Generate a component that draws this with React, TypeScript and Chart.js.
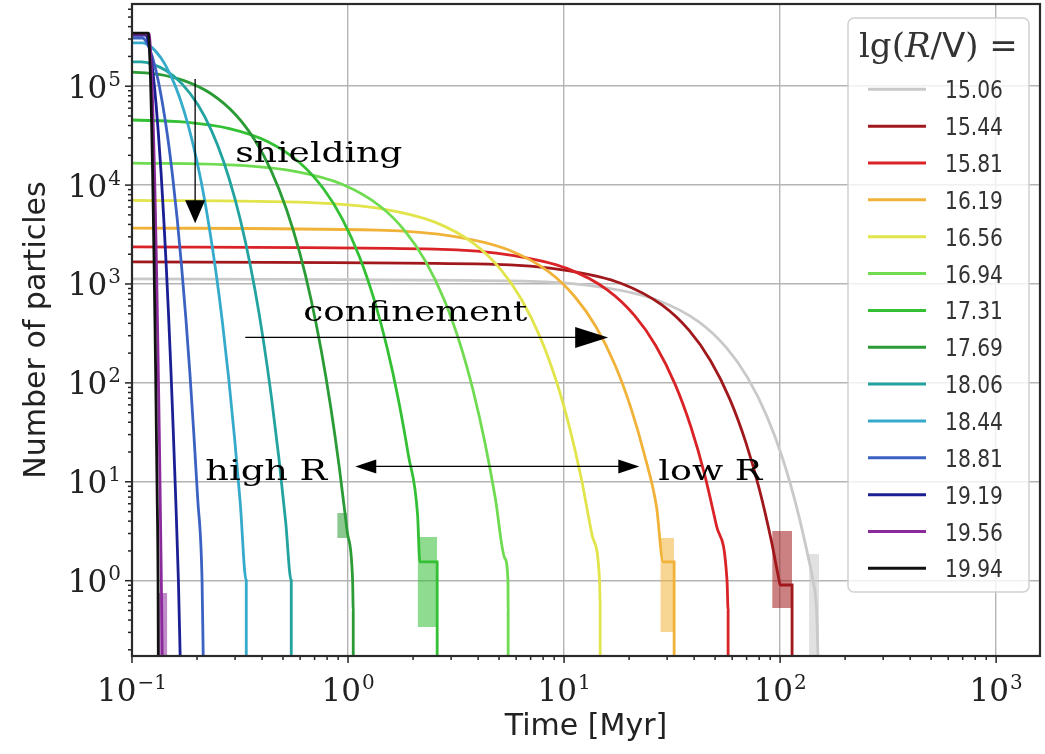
import React, { useEffect, useRef } from 'react';
import { Chart, registerables } from 'chart.js';
Chart.register(...registerables);

// ---------- axes ----------
const X_MIN = 0.1;
const X_MAX = 1596;
const Y_MIN = 0.1732;
const Y_MAX = 677800;
const xMajor = [0.1, 1, 10, 100, 1000];
const xExp = ['\u22121', '0', '1', '2', '3'];
const yMajor = [1, 10, 100, 1000, 10000, 100000];
const yExp = ['0', '1', '2', '3', '4', '5'];

// ---------- series (legend order) ----------
const labels = ['15.06', '15.44', '15.81', '16.19', '16.56', '16.94', '17.31', '17.69', '18.06', '18.44', '18.81', '19.19', '19.56', '19.94'];
const colors = ['#c9c9c9', '#a0181c', '#d92327', '#f0b238', '#e1e44a', '#6edb50', '#33c034', '#2b9b35', '#23a3a0', '#36aacb', '#3b62c2', '#1a2094', '#8b2b9b', '#111111'];

const t1506 = [0.1, 6.55, 15.45, 27.3, 42.06, 56.4, 70.7, 86.9, 103.0, 119.1, 135.3, 142.0, 147.5, 150.0];
const n1506 = [1125, 1070, 921, 682, 414, 227, 113, 45.9, 16.9, 5.61, 1.69, 1.0, 0.5, 0.15];
const t1544 = [0.1, 4.45, 10.43, 18.42, 28.36, 38.01, 47.66, 58.57, 69.39, 80.25, 91.15, 99.0, 100.0, 113.6, 113.6];
const n1544 = [1670, 1588, 1367, 1013, 614, 337, 167.5, 68.1, 25.0, 8.33, 2.51, 1.0, 0.905, 0.905, 0.15];
const t1581 = [0.1, 2.52, 5.86, 10.31, 15.84, 21.22, 26.59, 32.67, 38.69, 44.74, 50.81, 56.8, 57.46, 57.46];
const n1581 = [2370, 2254, 1940, 1437, 872, 478.5, 237.7, 96.6, 35.6, 11.83, 3.56, 1.0, 0.5, 0.15];
const t1619 = [0.1, 1.375, 3.131, 5.475, 8.389, 11.22, 14.05, 17.25, 20.42, 23.61, 26.81, 28.75, 32.32, 32.32];
const n1619 = [3680, 3500, 3013, 2232, 1354, 743, 369, 150, 55.2, 18.4, 5.53, 1.55, 1.55, 0.15];
const t1656 = [0.1, 0.671, 1.457, 2.506, 3.81, 5.077, 6.344, 7.776, 9.197, 10.62, 12.05, 13.49, 14.6, 14.69, 14.69];
const n1656 = [7000, 6658, 5731, 4246, 2575, 1413, 702, 285, 105, 34.9, 10.5, 2.87, 1.0, 0.6, 0.15];
const t1694 = [0.1, 0.3004, 0.5765, 0.9449, 1.403, 1.848, 2.293, 2.796, 3.295, 3.795, 4.298, 4.804, 5.316, 5.5, 5.51, 5.51];
const n1694 = [16700, 15885, 13672, 10129, 6144, 3372, 1675, 681, 250.5, 83.3, 25.1, 6.85, 1.69, 1.0, 0.5, 0.15];
const t1731 = [0.1, 0.1768, 0.2826, 0.4237, 0.5993, 0.7698, 0.9403, 1.133, 1.324, 1.516, 1.709, 1.902, 2.099, 2.15, 2.586, 2.586];
const n1731 = [45500, 43280, 37250, 27600, 16740, 9186, 4564, 1855, 682, 227, 68.4, 18.7, 4.6, 1.55, 1.55, 0.15];
const t1769 = [0.1, 0.1312, 0.1741, 0.2314, 0.3026, 0.3718, 0.441, 0.5192, 0.5968, 0.6746, 0.7528, 0.8314, 0.911, 0.9912, 1.05, 1.057, 1.057];
const n1769 = [139000, 132200, 113800, 84300, 51140, 28060, 13940, 5666, 2085, 694, 209, 57, 14.0, 3.13, 1.0, 0.5, 0.15];
const t1806 = [0.1, 0.11, 0.1241, 0.1436, 0.1696, 0.2019, 0.2333, 0.2647, 0.3001, 0.3353, 0.3706, 0.4061, 0.4418, 0.4779, 0.5143, 0.546, 0.546];
const n1806 = [176000, 176000, 167400, 144100, 106700, 64750, 35530, 17650, 7174, 2640, 878, 264.5, 72.2, 17.8, 3.96, 1.0, 0.15];
const t1844 = [0.1, 0.112, 0.1192, 0.129, 0.1422, 0.1586, 0.1745, 0.1904, 0.2084, 0.2262, 0.2441, 0.2621, 0.2801, 0.2984, 0.3169, 0.338, 0.338];
const n1844 = [274000, 274000, 260600, 224300, 166200, 100800, 55320, 27480, 11170, 4110, 1367, 412, 112.3, 27.7, 6.17, 1.0, 0.15];
const t1881 = [0.1, 0.112, 0.1151, 0.1194, 0.1252, 0.1323, 0.1392, 0.1462, 0.154, 0.1618, 0.1695, 0.1774, 0.1853, 0.1932, 0.2013, 0.211, 0.2138];
const n1881 = [307000, 307000, 292000, 251300, 186200, 112900, 61980, 30790, 12510, 4605, 1532, 461, 126, 31, 6.9, 1.0, 0.15];
const t1919 = [0.1, 0.116, 0.1175, 0.1196, 0.1224, 0.1258, 0.1292, 0.1325, 0.1363, 0.14, 0.1438, 0.1476, 0.1514, 0.1552, 0.1591, 0.164, 0.1673];
const n1919 = [329000, 329000, 313000, 269400, 199500, 121000, 66420, 33000, 13410, 4935, 1642, 494.5, 135, 33.2, 7.4, 1.0, 0.15];
const t1956 = [0.1, 0.12, 0.1205, 0.1212, 0.1222, 0.1234, 0.1246, 0.1257, 0.1271, 0.1284, 0.1297, 0.131, 0.1323, 0.1337, 0.135, 0.1367, 0.1381];
const n1956 = [337000, 337000, 320600, 275900, 204400, 124000, 68040, 33800, 13740, 5055, 1682, 506.5, 138, 34, 7.6, 1.0, 0.15];
const t1994 = [0.1, 0.119, 0.1194, 0.12, 0.1207, 0.1217, 0.1226, 0.1235, 0.1245, 0.1255, 0.1265, 0.1275, 0.1286, 0.1296, 0.1307, 0.132, 0.1324];
const n1994 = [344000, 344000, 327200, 281600, 208600, 126600, 69450, 34500, 14020, 5160, 1717, 517, 141, 34.7, 7.74, 1.0, 0.15];

const seriesT = [t1506, t1544, t1581, t1619, t1656, t1694, t1731, t1769, t1806, t1844, t1881, t1919, t1956, t1994];
const seriesN = [n1506, n1544, n1581, n1619, n1656, n1694, n1731, n1769, n1806, n1844, n1881, n1919, n1956, n1994];

// ---------- shaded tail bands: series index, time range, count range ----------
const bandSeries = [0, 1, 3, 6, 7, 12];
const bandT = [[136.2, 151.4], [91.9, 113.6], [27.9, 32.3], [2.1, 2.586], [0.891, 0.992], [0.1324, 0.1457]];
const bandN = [[0.15, 1.86], [0.53, 3.18], [0.303, 2.7], [0.34, 2.76], [2.7, 4.84], [0.15, 0.75]];

// ---------- annotations (data coordinates) ----------
const annShield = { t: 0.196, n0: 118000, n1: 4120 };
const annConf = { t0: 0.3344, t1: 16.0, n: 288 };
const annRange = { t0: 1.08, t1: 22.3, n: 14.3 };
const annTexts = [
  { text: 'shielding', t: 0.3008, n: 17100, w: 167 },
  { text: 'confinement', t: 0.6206, n: 423, w: 224 },
  { text: 'high R', t: 0.2184, n: 10.4, w: 122 },
  { text: 'low R', t: 27.3, n: 10.4, w: 104 },
];

function hexA(hex: string, a: number) {
  const r = parseInt(hex.slice(1, 3), 16), g = parseInt(hex.slice(3, 5), 16), b = parseInt(hex.slice(5, 7), 16);
  return `rgba(${r},${g},${b},${a})`;
}

function fitText(ctx: CanvasRenderingContext2D, text: string, x: number, y: number, width: number, font: string) {
  ctx.font = font;
  const w = ctx.measureText(text).width;
  ctx.save();
  ctx.translate(x, y);
  ctx.scale(width / w, 1);
  ctx.fillText(text, 0, 0);
  ctx.restore();
}

function drawPow(ctx: CanvasRenderingContext2D, exp: string, x: number, base: number, align: 'center' | 'right') {
  ctx.textAlign = 'left';
  ctx.textBaseline = 'alphabetic';
  ctx.font = '31px "DejaVu Serif"';
  const wb = ctx.measureText('10').width;
  ctx.font = '20px "DejaVu Serif"';
  const we = ctx.measureText(exp).width;
  const total = wb + we + 1;
  const x0 = align === 'center' ? x - total / 2 : x - total;
  ctx.font = '31px "DejaVu Serif"';
  ctx.fillText('10', x0, base);
  ctx.font = '20px "DejaVu Serif"';
  ctx.fillText(exp, x0 + wb + 1, base - 12);
}

function arrowHead(ctx: CanvasRenderingContext2D, tipX: number, tipY: number, dx: number, dy: number, len: number, half: number) {
  const bx = tipX - dx * len, by = tipY - dy * len;
  ctx.beginPath();
  ctx.moveTo(tipX, tipY);
  ctx.lineTo(bx - dy * half, by + dx * half);
  ctx.lineTo(bx + dy * half, by - dx * half);
  ctx.closePath();
  ctx.fill();
}

const decor = {
  id: 'decor',
  afterDraw(chart: any) {
    const ctx: CanvasRenderingContext2D = chart.ctx;
    const { left, right, top, bottom } = chart.chartArea;
    const xs = chart.scales.x, ys = chart.scales.y;
    ctx.save();
    ctx.fillStyle = '#222';
    ctx.strokeStyle = '#222';

    // minor + major ticks
    ctx.lineWidth = 1.5;
    for (let e = -1; e <= 5; e++) {
      for (let m = 1; m <= 9; m++) {
        const v = m * Math.pow(10, e);
        const len = m === 1 ? 7 : 4;
        if (v >= X_MIN && v <= X_MAX) {
          const px = xs.getPixelForValue(v);
          ctx.beginPath(); ctx.moveTo(px, bottom); ctx.lineTo(px, bottom + len); ctx.stroke();
        }
      }
    }
    for (let e = -1; e <= 5; e++) {
      for (let m = 1; m <= 9; m++) {
        const v = m * Math.pow(10, e);
        const len = m === 1 ? 7 : 4;
        if (v >= Y_MIN && v <= Y_MAX) {
          const py = ys.getPixelForValue(v);
          ctx.beginPath(); ctx.moveTo(left, py); ctx.lineTo(left - len, py); ctx.stroke();
        }
      }
    }

    // frame
    ctx.lineWidth = 2.2;
    ctx.strokeStyle = '#2a2a2a';
    ctx.strokeRect(left, top, right - left, bottom - top);

    // tick labels
    ctx.fillStyle = '#222';
    xMajor.forEach((v, i) => drawPow(ctx, xExp[i], xs.getPixelForValue(v), 701, 'center'));
    yMajor.forEach((v, i) => {
      const py = ys.getPixelForValue(v);
      drawPow(ctx, yExp[i], 121, py + 11.5, 'right');
    });

    // axis titles
    ctx.font = '30px "DejaVu Sans"';
    ctx.textAlign = 'center';
    ctx.textBaseline = 'alphabetic';
    ctx.fillText('Time [Myr]', (left + right) / 2, 735);
    ctx.save();
    ctx.translate(37, (top + bottom) / 2);
    ctx.rotate(-Math.PI / 2);
    ctx.textBaseline = 'middle';
    ctx.fillText('Number of particles', 0, 0);
    ctx.restore();

    // annotations
    ctx.strokeStyle = '#000';
    ctx.fillStyle = '#000';
    ctx.lineWidth = 1.3;
    {
      const x = xs.getPixelForValue(annShield.t);
      const y0 = ys.getPixelForValue(annShield.n0), y1 = ys.getPixelForValue(annShield.n1);
      ctx.beginPath(); ctx.moveTo(x, y0); ctx.lineTo(x, y1 - 20); ctx.stroke();
      arrowHead(ctx, x, y1, 0, 1, 23, 10);
    }
    {
      const x0 = xs.getPixelForValue(annConf.t0), x1 = xs.getPixelForValue(annConf.t1);
      const y = ys.getPixelForValue(annConf.n);
      ctx.beginPath(); ctx.moveTo(x0, y); ctx.lineTo(x1 - 30, y); ctx.stroke();
      arrowHead(ctx, x1, y, 1, 0, 33, 10.5);
    }
    {
      const x0 = xs.getPixelForValue(annRange.t0), x1 = xs.getPixelForValue(annRange.t1);
      const y = ys.getPixelForValue(annRange.n);
      ctx.beginPath(); ctx.moveTo(x0 + 18, y); ctx.lineTo(x1 - 18, y); ctx.stroke();
      arrowHead(ctx, x1, y, 1, 0, 21, 7);
      arrowHead(ctx, x0, y, -1, 0, 21, 7);
    }
    ctx.textAlign = 'left';
    ctx.textBaseline = 'alphabetic';
    annTexts.forEach(a => {
      fitText(ctx, a.text, xs.getPixelForValue(a.t), ys.getPixelForValue(a.n), a.w, '28px "DejaVu Serif"');
    });

    // legend
    const lx = 848, ly = 18, lw = 181, lh = 574;
    ctx.beginPath();
    (ctx as any).roundRect(lx, ly, lw, lh, 6);
    ctx.fillStyle = 'rgba(255,255,255,0.8)';
    ctx.fill();
    ctx.strokeStyle = '#d0d0d0';
    ctx.lineWidth = 1.5;
    ctx.stroke();

    ctx.fillStyle = '#333';
    let tx = 859;
    const tb = 57;
    const pieces: [string, string][] = [
      ['lg(', '34px "DejaVu Serif"'],
      ['R', 'italic 34px "DejaVu Serif"'],
      ['/', '34px "DejaVu Serif"'],
      ['V', '34px "DejaVu Sans"'],
      [')', '34px "DejaVu Serif"'],
      [' =', '34px "DejaVu Serif"'],
    ];
    pieces.forEach(([s, f]) => {
      ctx.font = f;
      ctx.fillText(s, tx, tb);
      tx += ctx.measureText(s).width;
    });

    ctx.font = '25px "DejaVu Sans"';
    const sc = 58 / ctx.measureText('15.06').width;
    labels.forEach((lab, i) => {
      const cy = 89.3 + 36.85 * i;
      ctx.strokeStyle = colors[i];
      ctx.lineWidth = 3;
      ctx.beginPath(); ctx.moveTo(868, cy); ctx.lineTo(926, cy); ctx.stroke();
      ctx.fillStyle = '#333';
      ctx.save();
      ctx.translate(945, cy + 9);
      ctx.scale(sc, 1);
      ctx.fillText(lab, 0, 0);
      ctx.restore();
    });

    ctx.restore();
  },
};

export default function App() {
  const ref = useRef<HTMLCanvasElement>(null);
  useEffect(() => {
    const curveSets = labels.map((lab, i) => ({
      label: lab,
      data: seriesT[i].map((t, j) => ({ x: t, y: seriesN[i][j] })),
      borderColor: colors[i],
      backgroundColor: colors[i],
      borderWidth: 2.8,
      pointRadius: 0,
      fill: false,
      cubicInterpolationMode: 'monotone' as const,
      order: 100 - i,
    }));
    const bandSets: any[] = [];
    bandSeries.forEach((si, k) => {
      const [ta, tb] = bandT[k];
      const [na, nb] = bandN[k];
      bandSets.push({
        label: 'band-hi-' + labels[si],
        data: [{ x: ta, y: nb }, { x: tb, y: nb }],
        borderWidth: 0,
        borderColor: 'rgba(0,0,0,0)',
        pointRadius: 0,
        backgroundColor: hexA(colors[si], 0.55),
        fill: '+1',
        order: 300 + 2 * k,
      });
      bandSets.push({
        label: 'band-lo-' + labels[si],
        data: [{ x: ta, y: na }, { x: tb, y: na }],
        borderWidth: 0,
        borderColor: 'rgba(0,0,0,0)',
        pointRadius: 0,
        fill: false,
        order: 301 + 2 * k,
      });
    });

    const chart = new Chart(ref.current!, {
      type: 'line',
      data: { datasets: [...curveSets, ...bandSets] },
      options: {
        responsive: false,
        animation: false,
        layout: { padding: { left: 0, right: 5, top: 4, bottom: 0 } },
        plugins: { legend: { display: false }, tooltip: { enabled: false }, title: { display: false } },
        scales: {
          x: {
            type: 'logarithmic',
            min: X_MIN,
            max: X_MAX,
            bounds: 'data',
            afterFit: (s: any) => { s.height = 98; },
            afterBuildTicks: (s: any) => { s.ticks = xMajor.map(v => ({ value: v })); },
            ticks: { display: false },
            grid: { color: '#b4b4b4', lineWidth: 1.4, drawTicks: false },
            border: { display: false },
          },
          y: {
            type: 'logarithmic',
            min: Y_MIN,
            max: Y_MAX,
            bounds: 'data',
            afterFit: (s: any) => { s.width = 132; },
            afterBuildTicks: (s: any) => { s.ticks = yMajor.map(v => ({ value: v })); },
            ticks: { display: false },
            grid: { color: '#b4b4b4', lineWidth: 1.4, drawTicks: false },
            border: { display: false },
          },
        },
      } as any,
      plugins: [decor],
    });
    return () => chart.destroy();
  }, []);
  return (
    <div style={{ position: 'fixed', left: 0, top: 0, width: 1045, height: 754, background: '#fff' }}>
      <canvas ref={ref} width={1045} height={754} style={{ display: 'block' }} />
    </div>
  );
}
